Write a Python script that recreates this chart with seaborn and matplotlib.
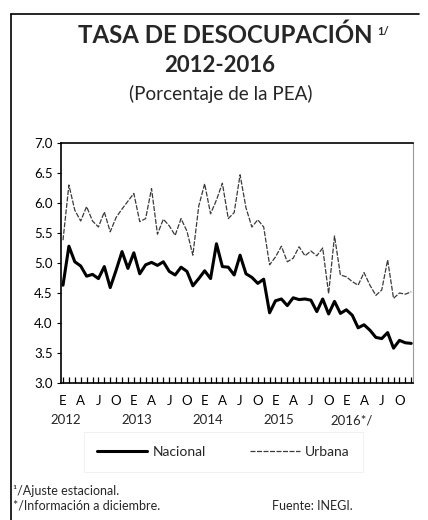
import matplotlib
matplotlib.use("Agg")
import matplotlib.pyplot as plt
import seaborn as sns
import pandas as pd
from matplotlib.lines import Line2D
from matplotlib.ticker import FixedLocator, MultipleLocator
import matplotlib.transforms as mtransforms

# Tasa de desocupación mensual (ajuste estacional), ene-2012 a dic-2016
nacional = [4.63, 5.28, 5.02, 4.95, 4.78, 4.81, 4.74, 4.94, 4.59, 4.88, 5.19, 4.91,
            5.17, 4.82, 4.97, 5.01, 4.96, 5.02, 4.86, 4.80, 4.93, 4.86, 4.62, 4.74,
            4.87, 4.74, 5.32, 4.94, 4.93, 4.80, 5.13, 4.82, 4.76, 4.66, 4.73, 4.17,
            4.37, 4.40, 4.29, 4.42, 4.39, 4.40, 4.38, 4.19, 4.40, 4.15, 4.36, 4.16,
            4.22, 4.13, 3.92, 3.97, 3.88, 3.76, 3.74, 3.84, 3.58, 3.71, 3.67, 3.66]
urbana = [5.38, 6.30, 5.88, 5.70, 5.94, 5.70, 5.60, 5.85, 5.52, 5.76, 5.90, 6.03,
          6.16, 5.69, 5.74, 6.24, 5.48, 5.73, 5.62, 5.46, 5.74, 5.53, 5.13, 5.95,
          6.32, 5.82, 6.05, 6.33, 5.74, 5.84, 6.47, 5.92, 5.60, 5.72, 5.60, 4.97,
          5.10, 5.28, 5.02, 5.08, 5.27, 5.12, 5.20, 5.12, 5.25, 4.49, 5.45, 4.80,
          4.77, 4.69, 4.63, 4.84, 4.63, 4.46, 4.55, 5.05, 4.41, 4.50, 4.48, 4.52]
meses = ["E", "A", "J", "O"]
anios = ["2012", "2013", "2014", "2015", "2016*/"]

n = len(nacional)
df = pd.DataFrame({
    "mes": list(range(n)) * 2,
    "tasa": nacional + urbana,
    "serie": ["Nacional"] * n + ["Urbana"] * n,
})

sns.set_style("white")
plt.rcParams["font.family"] = ["Lato", "DejaVu Sans"]

fig = plt.figure(figsize=(4.28, 5.2), dpi=100)
ax = fig.add_axes([0.1425, 0.2635, 0.8225, 0.4615])

sns.lineplot(data=df[df.serie == "Nacional"], x="mes", y="tasa", color="black",
             linewidth=2.2, ax=ax, legend=False)
sns.lineplot(data=df[df.serie == "Urbana"], x="mes", y="tasa", color="#3a3a3a",
             linewidth=0.9, ax=ax, legend=False)
ax.lines[1].set_dashes((4, 1.2))

ax.set_xlim(-0.34, 59.3)
ax.set_ylim(3, 7)
ax.set_xlabel("")
ax.set_ylabel("")

# ticks
ax.yaxis.set_major_locator(MultipleLocator(0.5))
ax.set_yticklabels([f"{v:.1f}" for v in ax.get_yticks()])
pos = list(range(0, n, 3))
ax.xaxis.set_major_locator(FixedLocator(pos))
ax.set_xticklabels([meses[(i // 3) % 4] for i in pos])
ax.xaxis.set_minor_locator(FixedLocator(range(n)))
ax.tick_params(axis="x", which="both", direction="in", length=4, width=0.9,
               bottom=True, pad=9, labelsize=9.5, colors="black")
ax.tick_params(axis="y", which="major", direction="out", length=3, width=0.8,
               left=True, labelsize=9.5, colors="black", pad=3)

# años debajo de los meses
trans = mtransforms.blended_transform_factory(ax.transData, ax.transAxes)
for k, anio in enumerate(anios):
    x = k * 12 + (0.9 if k == 4 else 0.5)
    ax.text(x, -0.155, anio, transform=trans, ha="center", va="center",
            fontsize=9.5)

for side in ["left", "bottom", "top"]:
    ax.spines[side].set_color("black")
    ax.spines[side].set_linewidth(1.2)
ax.spines["right"].set_color("#999999")
ax.spines["right"].set_linewidth(0.8)

# titulo
t = fig.text(0.527, 0.918, "TASA DE DESOCUPACIÓN", ha="center", va="baseline",
             fontsize=17.3, fontweight="bold")
fig.canvas.draw()
bb = t.get_window_extent().transformed(fig.transFigure.inverted())
fig.text(bb.x1 + 0.01, 0.932, "1/", fontsize=8, fontweight="bold", va="baseline")
fig.text(0.514, 0.862, "2012-2016", ha="center", va="baseline",
         fontsize=16, fontweight="bold")
fig.text(0.516, 0.807, "(Porcentaje de la PEA)", ha="center", va="baseline",
         fontsize=13.6)

# leyenda
handles = [Line2D([], [], color="black", lw=2.2),
           Line2D([], [], color="#3a3a3a", lw=0.9, dashes=(4, 1.2))]
leg = fig.legend(handles, ["Nacional", "Urbana"], loc="center",
                 bbox_to_anchor=(0.522, 0.131), ncol=2, fontsize=10,
                 frameon=True, handlelength=3.6, handletextpad=0.35,
                 columnspacing=3.2, borderpad=1.0, fancybox=False)
leg.get_frame().set_edgecolor("#e6e6e6")
leg.get_frame().set_linewidth(0.5)

# notas
fig.text(0.03, 0.049, "¹/Ajuste estacional.", fontsize=9, va="baseline")
fig.text(0.03, 0.02, "*/Información a diciembre.", fontsize=9, va="baseline")
fig.text(0.635, 0.02, "Fuente: INEGI.", fontsize=9, va="baseline")

# marco
fig.add_artist(Line2D([0.026, 0.026], [0.0, 0.973], transform=fig.transFigure,
                      color="black", lw=1.2))
fig.add_artist(Line2D([0.026, 0.98], [0.973, 0.973], transform=fig.transFigure,
                      color="black", lw=1.2))

fig.savefig("out.png", dpi=100, facecolor="white")
